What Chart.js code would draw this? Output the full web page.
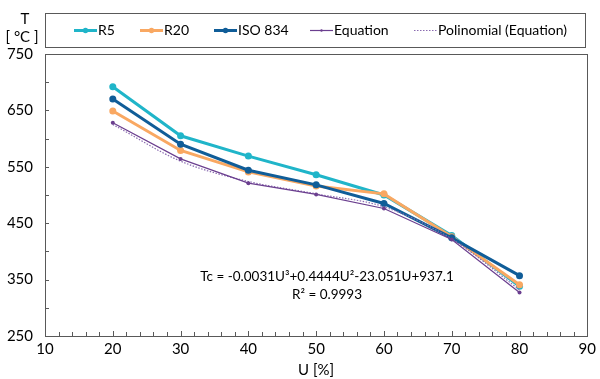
<!DOCTYPE html>
<html>
<head>
<meta charset="utf-8">
<script src="https://cdn.jsdelivr.net/npm/chart.js@4"></script>
<style>
  html, body { margin: 0; padding: 0; background: #fff; }
  #wrap { width: 600px; height: 379px; position: relative; }
</style>
</head>
<body>
<div id="wrap"><canvas id="chart"></canvas></div>
<script>
// dati
const uValues = [20, 30, 40, 50, 60, 70, 80];
const r5 = [692, 605, 569, 536, 500, 428, 338];
const r20 = [649, 579, 541, 516, 502, 426, 341];
const iso834 = [670, 590, 544, 518, 485, 424, 357];
const equation = [628, 564, 521, 501, 476, 421, 327];
const polinomial = [625, 560, 524, 502, 479, 422, 332];
const xTicks = [10, 20, 30, 40, 50, 60, 70, 80, 90];
const yTicks = [250, 350, 450, 550, 650, 750];

const FONT = 'Lato, "Open Sans", sans-serif';
const AXIS = '#595959';

function pts(arr) {
    return uValues.map((u, i) => ({ x: u, y: arr[i] }));
}

// legenda con riquadro, titolo asse Y, minor ticks, equazione
const extras = {
    id: 'extras',
    afterDraw(chart) {
        const ctx = chart.ctx;
        const a = chart.chartArea;
        const xs = chart.scales.x, ys = chart.scales.y;
        ctx.save();
        ctx.strokeStyle = AXIS;
        ctx.lineWidth = 1;
        // bordo area
        ctx.strokeRect(Math.round(a.left) + 0.5, Math.round(a.top) + 0.5,
            Math.round(a.right - a.left), Math.round(a.bottom - a.top));
        // tacche interne
        ctx.beginPath();
        for (let v = 12; v < 90; v += 2) {
            const px = Math.round(xs.getPixelForValue(v)) + 0.5;
            const len = (v % 10 === 0) ? 5 : 4;
            ctx.moveTo(px, a.bottom);
            ctx.lineTo(px, a.bottom - len);
        }
        for (let v = 300; v < 750; v += 50) {
            const py = Math.round(ys.getPixelForValue(v)) + 0.5;
            ctx.moveTo(a.left, py);
            ctx.lineTo(a.left + 4, py);
        }
        ctx.stroke();

        // titolo asse Y
        ctx.fillStyle = '#000';
        ctx.font = '15px ' + FONT;
        ctx.textAlign = 'center';
        ctx.textBaseline = 'middle';
        ctx.fillText('T', 25, 19);
        ctx.fillText('[ °C ]', 22, 37);

        // riquadro legenda
        ctx.strokeStyle = AXIS;
        ctx.strokeRect(Math.round(a.left) + 0.5, 13.5, Math.round(a.right - a.left) - 2, 34);
        const items = [
            { ds: 0, x: 74 }, { ds: 1, x: 140 }, { ds: 2, x: 214 },
            { ds: 3, x: 310 }, { ds: 4, x: 414 }
        ];
        const ly = 30.5;
        ctx.font = '14px ' + FONT;
        ctx.textAlign = 'left';
        items.forEach(it => {
            const d = chart.data.datasets[it.ds];
            ctx.strokeStyle = d.borderColor;
            ctx.lineWidth = d.legendWidth;
            ctx.setLineDash(d.borderDash || []);
            ctx.beginPath();
            ctx.moveTo(it.x, ly);
            ctx.lineTo(it.x + 23, ly);
            ctx.stroke();
            ctx.setLineDash([]);
            if (d.pointRadius > 0) {
                ctx.fillStyle = d.borderColor;
                ctx.beginPath();
                ctx.arc(it.x + 11.5, ly, d.pointRadius - 0.8, 0, Math.PI * 2);
                ctx.fill();
            }
            ctx.fillStyle = '#000';
            ctx.fillText(d.label, it.x + 24, ly);
        });

        // equazione della linea di tendenza
        ctx.font = '13.5px ' + FONT;
        ctx.textAlign = 'center';
        ctx.fillStyle = '#000';
        ctx.fillText('Tc = -0.0031U³+0.4444U²-23.051U+937.1', 327, 277);
        ctx.fillText('R² = 0.9993', 327, 295);
        ctx.restore();
    }
};

new Chart(document.getElementById('chart'), {
    type: 'line',
    data: {
        datasets: [
            { label: 'R5', data: pts(r5), borderColor: '#20B5C9', backgroundColor: '#20B5C9',
              borderWidth: 3, legendWidth: 3, pointRadius: 3.5, pointBorderWidth: 0, order: 3 },
            { label: 'R20', data: pts(r20), borderColor: '#F9A862', backgroundColor: '#F9A862',
              borderWidth: 3, legendWidth: 3, pointRadius: 3.5, pointBorderWidth: 0, order: 2 },
            { label: 'ISO 834', data: pts(iso834), borderColor: '#105D98', backgroundColor: '#105D98',
              borderWidth: 3, legendWidth: 3, pointRadius: 3.5, pointBorderWidth: 0, order: 1 },
            { label: 'Equation', data: pts(equation), borderColor: '#6B3F8F', backgroundColor: '#6B3F8F',
              borderWidth: 1.2, legendWidth: 1.2, pointRadius: 2, pointBorderWidth: 0, order: 0 },
            { label: 'Polinomial (Equation)', data: pts(polinomial), borderColor: '#8A6BB0',
              borderWidth: 1.2, legendWidth: 1, borderDash: [1.5, 1.5], pointRadius: 0,
              cubicInterpolationMode: 'monotone', order: 0 }
        ]
    },
    options: {
        responsive: true,
        maintainAspectRatio: false,
        animation: false,
        layout: { padding: { top: 54, right: 8, left: 0, bottom: 0 } },
        plugins: { legend: { display: false }, tooltip: { enabled: false } },
        scales: {
            x: {
                type: 'linear', min: 10, max: 90,
                afterBuildTicks: s => { s.ticks = xTicks.map(v => ({ value: v })); },
                grid: { display: false, drawTicks: false },
                border: { display: true, color: AXIS },
                ticks: { color: '#000', font: { family: FONT, size: 15 }, padding: 4, maxRotation: 0 },
                title: { display: true, text: 'U [%]', color: '#000', font: { family: FONT, size: 15 }, padding: { top: 2, bottom: 0 } },
                afterFit: s => { s.height = 43; }
            },
            y: {
                min: 250, max: 750,
                afterBuildTicks: s => { s.ticks = yTicks.map(v => ({ value: v })); },
                grid: { display: false, drawTicks: false },
                border: { display: true, color: AXIS },
                ticks: { color: '#000', font: { family: FONT, size: 15 }, padding: 12 },
                afterFit: s => { s.width = 45; }
            }
        }
    },
    plugins: [extras]
});
</script>
</body>
</html>
